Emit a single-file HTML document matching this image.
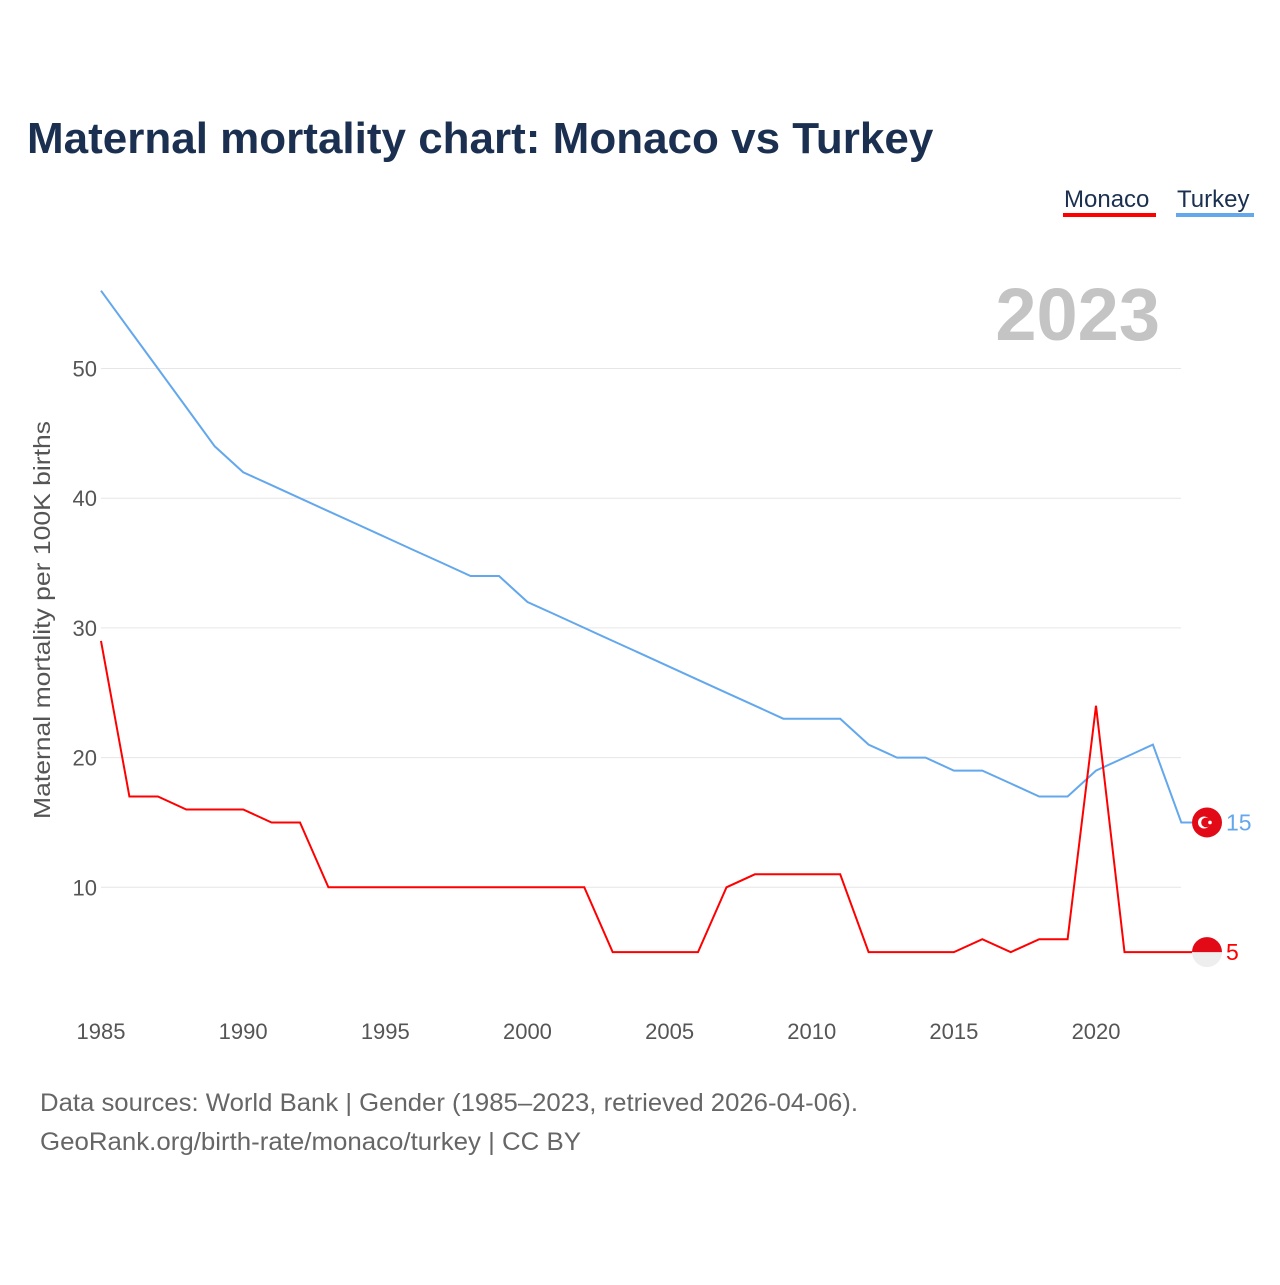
<!DOCTYPE html>
<html><head><meta charset="utf-8"><style>
body{margin:0;background:#fff;font-family:"Liberation Sans",sans-serif}
</style></head><body>
<svg width="1280" height="1280" xmlns="http://www.w3.org/2000/svg" font-family="Liberation Sans, sans-serif">
<text x="27" y="153" font-size="44" font-weight="bold" fill="#1b3050">Maternal mortality chart: Monaco vs Turkey</text>
<g>
<text x="1064" y="207" font-size="24" fill="#1b3050">Monaco</text>
<rect x="1063" y="213" width="93" height="4" fill="#ff0000"/>
<text x="1177" y="207" font-size="24" fill="#1b3050">Turkey</text>
<rect x="1176" y="213" width="78" height="4" fill="#63a8ec"/>
</g>
<text x="1160" y="340" text-anchor="end" font-size="74" font-weight="bold" fill="#c4c4c4">2023</text>
<g id="grid"></g><g id="xt"></g><g id="lines"></g>
<text transform="translate(50,620) rotate(-90)" text-anchor="middle" font-size="23.5" fill="#555" textLength="398" lengthAdjust="spacingAndGlyphs">Maternal mortality per 100K births</text>
<text x="40" y="1111" font-size="25" fill="#666" textLength="818" lengthAdjust="spacingAndGlyphs">Data sources: World Bank | Gender (1985–2023, retrieved 2026-04-06).</text>
<text x="40" y="1150" font-size="25" fill="#666" textLength="541" lengthAdjust="spacingAndGlyphs">GeoRank.org/birth-rate/monaco/turkey | CC BY</text>
</svg>
<script>
const years=[];for(let y=1985;y<=2023;y++)years.push(y);
const turkey=[56,53,50,47,44,42,41,40,39,38,37,36,35,34,34,32,31,30,29,28,27,26,25,24,23,23,23,21,20,20,19,19,18,17,17,19,20,21,15];
const monaco=[29,17,17,16,16,16,15,15,10,10,10,10,10,10,10,10,10,10,5,5,5,5,10,11,11,11,11,5,5,5,5,6,5,6,6,24,5,5,5];
const yTicks=[10,20,30,40,50];
const xTicks=[1985,1990,1995,2000,2005,2010,2015,2020];
const NS="http://www.w3.org/2000/svg";
const X=v=>101+(v-1985)*28.43, Y=v=>1017-v*12.97;
function mk(t,a,p){const e=document.createElementNS(NS,t);for(const k in a)e.setAttribute(k,a[k]);document.getElementById(p).appendChild(e);return e;}
yTicks.forEach(t=>{
 const l=mk('line',{x1:101,x2:1181,y1:Y(t),y2:Y(t),stroke:'#e6e6e6','stroke-width':1},'grid');
 
 
 const tx=mk('text',{x:97,y:Y(t)+8,'text-anchor':'end','font-size':22,fill:'#555'},'grid');tx.textContent=t;
 
 
});
xTicks.forEach(t=>{
 const tx=mk('text',{x:X(t),y:1039,'text-anchor':'middle','font-size':22,fill:'#555'},'xt');tx.textContent=t;
 
 
});
function series(vals,col,name,flag){
 let d=vals.map((v,i)=>(i?'L':'M')+X(years[i]).toFixed(1)+','+Y(v).toFixed(1)).join('');
 d+='L1192,'+Y(vals[vals.length-1]).toFixed(1);
 const p=mk('path',{d:d,fill:'none',stroke:col,'stroke-width':2},'lines');
 
 
 const v=vals[vals.length-1],cy=Y(v);
 const g=mk('g',{},'lines');
 
 
 if(flag==='tr'){
  g.innerHTML=`<circle cx="1207" cy="${cy}" r="15" fill="#e30a17"/><circle cx="1204" cy="${cy}" r="6" fill="#fff"/><circle cx="1206" cy="${cy}" r="4.8" fill="#e30a17"/><circle cx="1210" cy="${cy}" r="1.8" fill="#fff"/>`;
 }else{
  g.innerHTML=`<circle cx="1207" cy="${cy}" r="15" fill="#eee"/><path d="M1192,${cy}A15,15 0 0 1 1222,${cy}Z" fill="#e30a17"/>`;
 }
 const t=mk('text',{x:1226,y:cy+8,'font-size':23,fill:col},'lines');t.textContent=v;
 
 
}
series(turkey,'#63a8ec','turkey','tr');
series(monaco,'#ff0000','monaco','mc');
</script>
</body></html>
